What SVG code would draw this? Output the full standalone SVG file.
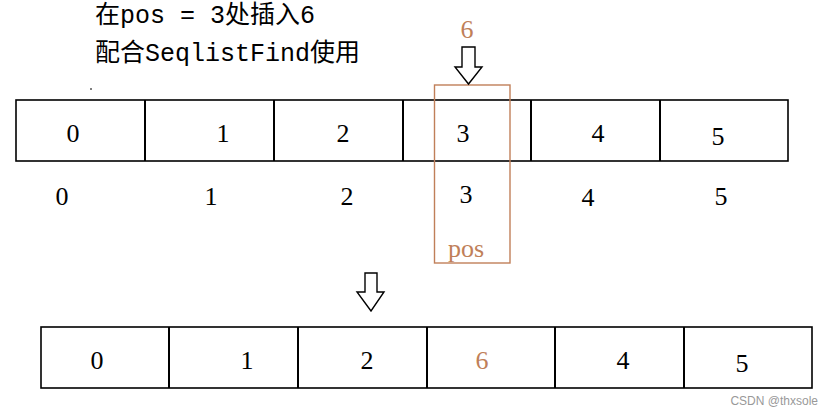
<svg xmlns="http://www.w3.org/2000/svg" width="836" height="415" viewBox="0 0 836 415">
<style>
.cap{font-family:"Liberation Mono","Noto Sans CJK SC",monospace;font-size:25px;fill:#000}
.num{font-family:"Liberation Serif",serif;font-size:26px;fill:#000;text-anchor:middle}
.or{fill:#c07f59}
.box{fill:#fff;stroke:#000;stroke-width:1.6}
.div{stroke:#000;stroke-width:2}
.arr{fill:#fff;stroke:#000;stroke-width:1.4;stroke-linejoin:miter}
</style>
<rect width="836" height="415" fill="#fff"/>
<g id="caption">
<text class="cap" x="95" y="23">在pos = 3处插入6</text>
<text class="cap" x="95" y="61">配合SeqlistFind使用</text>
<rect x="90" y="88.5" width="2" height="1" fill="#000"/>
</g>
<g id="top-array">
<rect class="box" x="16" y="100" width="772" height="61"/>
<line class="div" x1="145" y1="100" x2="145" y2="161"/>
<line class="div" x1="274" y1="100" x2="274" y2="161"/>
<line class="div" x1="403" y1="100" x2="403" y2="161"/>
<line class="div" x1="531" y1="100" x2="531" y2="161"/>
<line class="div" x1="660" y1="100" x2="660" y2="161"/>
<text class="num" x="73" y="142">0</text>
<text class="num" x="223" y="142">1</text>
<text class="num" x="343" y="142">2</text>
<text class="num" x="463" y="142">3</text>
<text class="num" x="598" y="142">4</text>
<text class="num" x="718" y="145">5</text>
</g>
<g id="indices">
<text class="num" x="62" y="205">0</text>
<text class="num" x="211" y="205">1</text>
<text class="num" x="347" y="205">2</text>
<text class="num" x="466" y="203">3</text>
<text class="num" x="588" y="206">4</text>
<text class="num" x="721" y="205">5</text>
</g>
<g id="pos-frame">
<rect x="434.5" y="85" width="75.5" height="178" fill="none" stroke="#c07f59" stroke-width="1.4"/>
<text class="num or" x="466" y="257">pos</text>
</g>
<g id="new-value">
<text class="num or" x="467" y="38">6</text>
</g>
<g id="connectors">
<path class="arr" d="M462,47 H475 V67 H482 L468.5,84 L455,67 H462 Z"/>
<path class="arr" d="M365,273 H377 V292 H384 L371,311 L357,292 H365 Z"/>
</g>
<g id="bottom-array">
<rect class="box" x="41" y="327" width="771" height="61"/>
<line class="div" x1="169" y1="327" x2="169" y2="388"/>
<line class="div" x1="298" y1="327" x2="298" y2="388"/>
<line class="div" x1="427" y1="327" x2="427" y2="388"/>
<line class="div" x1="555" y1="327" x2="555" y2="388"/>
<line class="div" x1="684" y1="327" x2="684" y2="388"/>
<text class="num" x="97" y="369">0</text>
<text class="num" x="247" y="369">1</text>
<text class="num" x="367" y="369">2</text>
<text class="num or" x="482" y="369">6</text>
<text class="num" x="623" y="369">4</text>
<text class="num" x="742" y="372">5</text>
</g>
<g id="watermark">
<text x="818" y="405" text-anchor="end" font-family="Liberation Sans,sans-serif" font-size="12" fill="#999">CSDN @thxsole</text>
</g>
</svg>
